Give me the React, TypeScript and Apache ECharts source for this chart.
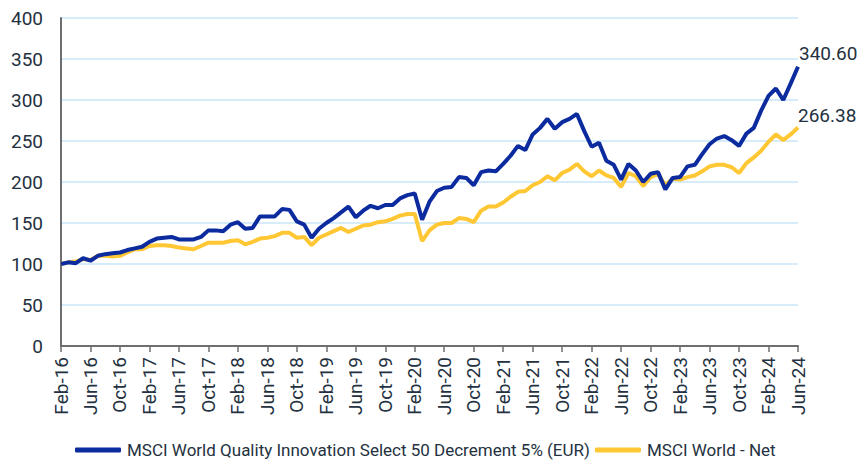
import React, { useEffect, useRef } from "react";
import * as echarts from "echarts";

const MONTHS = ["Jan", "Feb", "Mar", "Apr", "May", "Jun", "Jul", "Aug", "Sep", "Oct", "Nov", "Dec"];
const categories: string[] = [];
for (let y = 16; y <= 24; y++) {
  for (let m = 0; m < 12; m++) {
    if (y === 16 && m < 1) continue;
    if (y === 24 && m > 5) continue;
    categories.push(`${MONTHS[m]}-${y}`);
  }
}

const qualityName = "MSCI World Quality Innovation Select 50 Decrement 5% (EUR)";
const worldName = "MSCI World - Net";

const qualityValues = [
  100, 102, 101, 107, 104, 110, 112, 113, 114, 117,
  119, 121, 127, 131, 132, 133, 130, 130, 130, 133,
  141, 141, 140, 148, 151, 143, 144, 158, 158, 158,
  167, 166, 152, 148, 132, 143, 150, 156, 163, 170,
  157, 165, 171, 168, 172, 172, 180, 184, 186, 154,
  176, 189, 193, 194, 206, 205, 196, 212, 214, 213,
  222, 232, 244, 239, 258, 266, 277, 265, 273, 277,
  283, 262, 243, 248, 226, 221, 203, 222, 214, 200,
  210, 212, 191, 205, 206, 219, 221, 234, 246, 253,
  256, 251, 244, 259, 266, 287, 305, 314, 300, 320,
  340.6,
];

const worldValues = [
  100, 102, 103, 106, 105, 110, 110, 109, 110, 114,
  118, 118, 122, 123, 123, 122, 120, 119, 118, 122,
  126, 126, 126, 128, 129, 124, 127, 131, 132, 134,
  138, 138, 132, 133, 123, 132, 136, 140, 144, 139,
  143, 147, 148, 151, 152, 155, 159, 161, 161, 128,
  141, 148, 150, 150, 156, 155, 151, 165, 170, 170,
  175, 182, 188, 189, 196, 200, 207, 202, 211, 215,
  222, 213, 207, 214, 208, 205, 194, 211, 207, 195,
  206, 210, 196, 204, 203, 206, 208, 213, 219, 221,
  221, 218, 211, 223, 230, 238, 249, 258, 251, 258,
  266.38,
];

const yTicks = { min: 0, max: 400, interval: 50 };

const BLUE = "#0B2B9E";
const YELLOW = "#FFC734";
const TEXT = "#243140";

export default function App() {
  const ref = useRef<HTMLDivElement>(null);
  useEffect(() => {
    if (!ref.current) return;
    const chart = echarts.init(ref.current, null, { renderer: "svg" });
    chart.setOption({
      animation: false,
      backgroundColor: "#ffffff",
      textStyle: { fontFamily: "Roboto" },
      grid: { left: 61, right: 61, top: 18, bottom: 116, containLabel: false },
      legend: {
        top: 441,
        left: 75,
        padding: 0,
        itemWidth: 46,
        itemHeight: 5,
        itemGap: 5,
        icon: "roundRect",
        textStyle: {
          fontFamily: "Roboto",
          fontSize: 17,
          lineHeight: 18,
          color: TEXT,
          padding: [0, 0, 0, 1],
        },
        data: [qualityName, worldName],
      },
      xAxis: {
        type: "category",
        data: categories,
        boundaryGap: false,
        axisLine: { lineStyle: { color: "#6e6e6e", width: 2 } },
        axisTick: { interval: 3, length: 6, lineStyle: { color: "#6e6e6e", width: 1.5 } },
        axisLabel: {
          interval: 3,
          rotate: 90,
          margin: 11,
          fontFamily: "Roboto",
          fontSize: 19,
          color: TEXT,
        },
        splitLine: { show: false },
      },
      yAxis: {
        type: "value",
        min: yTicks.min,
        max: yTicks.max,
        interval: yTicks.interval,
        axisLine: { show: true, lineStyle: { color: "#6e6e6e", width: 2 } },
        axisTick: { show: false },
        axisLabel: { fontFamily: "Roboto", fontSize: 19, color: TEXT, margin: 18 },
        splitLine: { lineStyle: { color: "#c9e6f8", width: 1.5 } },
      },
      series: [
        {
          name: worldName,
          type: "line",
          data: worldValues,
          showSymbol: false,
          symbol: "none",
          lineStyle: { color: YELLOW, width: 4 },
          itemStyle: { color: YELLOW },
          z: 2,
          endLabel: {
            show: true,
            formatter: "266.38",
            offset: [-8, -12],
            fontFamily: "Roboto",
            fontSize: 19,
            color: TEXT,
          },
        },
        {
          name: qualityName,
          type: "line",
          data: qualityValues,
          showSymbol: false,
          symbol: "none",
          lineStyle: { color: BLUE, width: 4 },
          itemStyle: { color: BLUE },
          z: 3,
          endLabel: {
            show: true,
            formatter: "340.60",
            offset: [-7, -13],
            fontFamily: "Roboto",
            fontSize: 19,
            color: TEXT,
          },
        },
      ],
    });
    return () => chart.dispose();
  }, []);
  return (
    <div
      ref={ref}
      style={{ position: "fixed", left: 0, top: 0, width: 859, height: 462, background: "#fff" }}
    />
  );
}
